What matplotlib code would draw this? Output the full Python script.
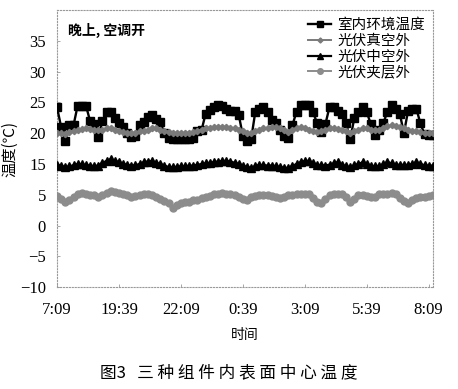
import matplotlib
matplotlib.use('Agg')
import matplotlib.pyplot as plt
import numpy as np

plt.rcParams['font.family'] = ['Noto Sans CJK SC', 'DejaVu Sans']

# 时间轴：17:09 起每 10 分钟一个测点
minutes = np.arange(92) * 10
tick_minutes = [0, 150, 300, 450, 600, 750, 900]
tick_labels = ['7:09', '19:39', '22:09', '0:39', '3:09', '5:39', '8:09']

y_ticks = [-10, -5, 0, 5, 15, 20, 25, 30, 35]
y_tick_labels = ['\u221210', '\u22125', '0', '5', '15', '20', '25', '30', '35']

indoor = [24.2, 21.0, 18.8, 21.3, 21.3, 24.5, 24.5, 24.5, 22.0, 21.5,
          19.4, 22.0, 23.4, 23.4, 22.5, 21.6, 21.0, 20.0, 19.4, 19.5,
          21.3, 21.8, 22.6, 22.9, 22.3, 21.8, 20.0, 19.2, 19.0, 19.0,
          19.0, 19.0, 19.0, 19.3, 20.4, 20.5, 23.2, 23.8, 24.2, 24.6,
          24.5, 24.0, 23.6, 23.6, 23.0, 19.6, 18.8, 19.0, 23.4, 24.0,
          24.3, 23.4, 22.1, 21.6, 20.5, 19.6, 19.2, 21.3, 23.5, 24.6,
          24.6, 24.6, 23.4, 21.6, 20.2, 21.5, 24.3, 24.3, 23.6, 23.2,
          21.6, 19.0, 22.5, 23.4, 24.3, 23.4, 21.5, 19.7, 20.5, 21.6,
          23.5, 24.6, 24.0, 23.2, 20.0, 23.6, 24.0, 24.0, 21.6, 19.8,
          19.7, 19.7]

vacuum = [20.1, 20.0, 19.9, 20.2, 20.4, 20.6, 20.7, 20.8, 20.7, 20.6,
          20.5, 20.6, 20.8, 20.8, 20.6, 20.4, 20.2, 20.1, 20.0, 20.1,
          20.3, 20.4, 20.6, 20.8, 20.8, 20.6, 20.4, 20.2, 20.1, 20.0,
          20.0, 20.0, 20.1, 20.2, 20.4, 20.6, 20.8, 20.9, 21.0, 21.0,
          21.0, 21.0, 20.9, 20.8, 20.6, 20.3, 20.1, 20.0, 20.3, 20.5,
          20.8, 20.9, 21.0, 21.0, 20.9, 20.5, 20.2, 20.5, 20.9, 21.0,
          20.8, 20.6, 20.4, 20.2, 20.3, 20.6, 20.8, 20.8, 20.7, 20.5,
          20.3, 20.1, 20.4, 20.6, 20.8, 20.8, 20.6, 20.5, 20.6, 20.9,
          21.1, 21.3, 21.2, 21.0, 20.8, 20.6, 20.4, 20.3, 20.2, 20.1,
          20.0, 20.0]

hollow = [14.7, 14.4, 14.0, 14.2, 14.6, 15.0, 14.9, 14.6, 14.5, 14.3,
          14.5, 15.2, 15.5, 15.8, 15.5, 15.3, 15.0, 14.7, 14.5, 14.6,
          15.0, 15.3, 15.4, 15.5, 15.2, 15.0, 14.5, 14.0, 13.9, 14.1,
          14.2, 14.3, 14.4, 14.5, 14.7, 15.0, 15.1, 15.2, 15.3, 15.4,
          15.5, 15.5, 15.4, 15.2, 15.0, 14.5, 14.0, 13.7, 14.3, 14.7,
          14.6, 14.5, 14.5, 14.3, 14.0, 13.8, 13.7, 14.4, 15.0, 15.3,
          15.5, 15.5, 15.1, 14.7, 14.6, 14.5, 14.8, 15.1, 15.3, 14.8,
          14.2, 13.9, 14.6, 15.0, 15.3, 15.0, 14.5, 14.2, 14.4, 14.9,
          15.3, 15.1, 14.8, 14.7, 14.7, 14.7, 15.0, 15.3, 15.0, 14.6,
          14.4, 14.5]

laminated = [4.8, 4.3, 3.9, 4.2, 4.6, 5.3, 5.5, 5.3, 5.0, 4.9,
             4.7, 5.0, 5.6, 6.1, 5.8, 5.5, 5.3, 4.9, 4.7, 4.8,
             5.0, 5.2, 5.3, 5.0, 4.6, 4.3, 4.0, 3.6, 2.9, 3.3,
             3.6, 3.8, 3.9, 4.1, 4.2, 4.4, 4.6, 4.8, 5.1, 5.3,
             5.5, 5.3, 5.2, 5.0, 4.7, 4.3, 4.2, 4.6, 4.8, 4.9,
             5.0, 5.0, 4.8, 4.6, 4.5, 4.7, 4.9, 5.0, 5.1, 5.2,
             5.3, 5.1, 4.5, 3.9, 3.7, 4.3, 4.9, 5.1, 5.2, 5.1,
             4.6, 3.8, 4.3, 4.9, 5.0, 4.8, 4.6, 4.7, 5.1, 5.3,
             5.4, 5.5, 5.2, 4.5, 4.0, 3.7, 4.1, 4.4, 4.6, 4.7,
             4.8, 5.0]


# 原图纵轴刻度 15 与 5 之间没有 10，按原图等距排列
def fwd(v):
    v = np.asarray(v, dtype=float)
    return np.where(v <= 5, v, np.where(v >= 15, v - 5, 5 + (v - 5) / 2))


def inv(u):
    u = np.asarray(u, dtype=float)
    return np.where(u <= 5, u, np.where(u >= 10, u + 5, 5 + (u - 5) * 2))


fig = plt.figure(figsize=(4.58, 3.89), dpi=100)
ax = fig.add_axes([0.1245, 0.262, 0.8205, 0.712])

ax.plot(minutes, indoor, color='black', lw=1.7, marker='s', ms=6,
        label='室内环境温度', zorder=3)
ax.plot(minutes, vacuum, color='#7a7a7a', lw=1.4, marker='D', ms=3.2,
        label='光伏真空外', zorder=4)
ax.plot(minutes, hollow, color='black', lw=1.6, marker='^', ms=5.5,
        label='光伏中空外', zorder=3)
ax.plot(minutes, laminated, color='#8c8c8c', lw=1.4, marker='o', ms=5,
        label='光伏夹层外', zorder=3)

ax.set_yscale('function', functions=(fwd, inv))
ax.set_ylim(-10, 40)
ax.set_yticks(y_ticks)
ax.set_yticklabels(y_tick_labels)
ax.yaxis.set_minor_locator(matplotlib.ticker.NullLocator())
ax.set_xlim(0, 910)
ax.set_xticks(tick_minutes)
ax.set_xticklabels(tick_labels)

for lab in ax.get_xticklabels() + ax.get_yticklabels():
    lab.set_family(['Liberation Serif', 'DejaVu Serif'])
    lab.set_fontsize(12)

ax.tick_params(direction='in', length=2, width=0.6, color='#999999')
ax.tick_params(axis='y', pad=8)
ax.tick_params(axis='x', pad=11)
for sp in ax.spines.values():
    sp.set_linestyle(':')
    sp.set_color('#999999')
    sp.set_linewidth(0.8)

ax.set_xlabel('时间', fontsize=10, labelpad=7)
ax.set_ylabel('温度(℃)', fontsize=11, labelpad=1)

ax.text(0.03, 0.955, '晚上, 空调开', transform=ax.transAxes, fontsize=10,
        fontweight='bold', va='top', ha='left')

ax.legend(loc='upper right', frameon=False, fontsize=10.5, handlelength=1.6,
          handletextpad=0.4, labelspacing=0.12, borderaxespad=0.15,
          markerscale=0.8)

fig.text(0.5, 0.042, '图3   ' + ' '.join('三种组件内表面中心温度'),
         ha='center', va='center', fontsize=12)

fig.savefig('out.png', dpi=100)
